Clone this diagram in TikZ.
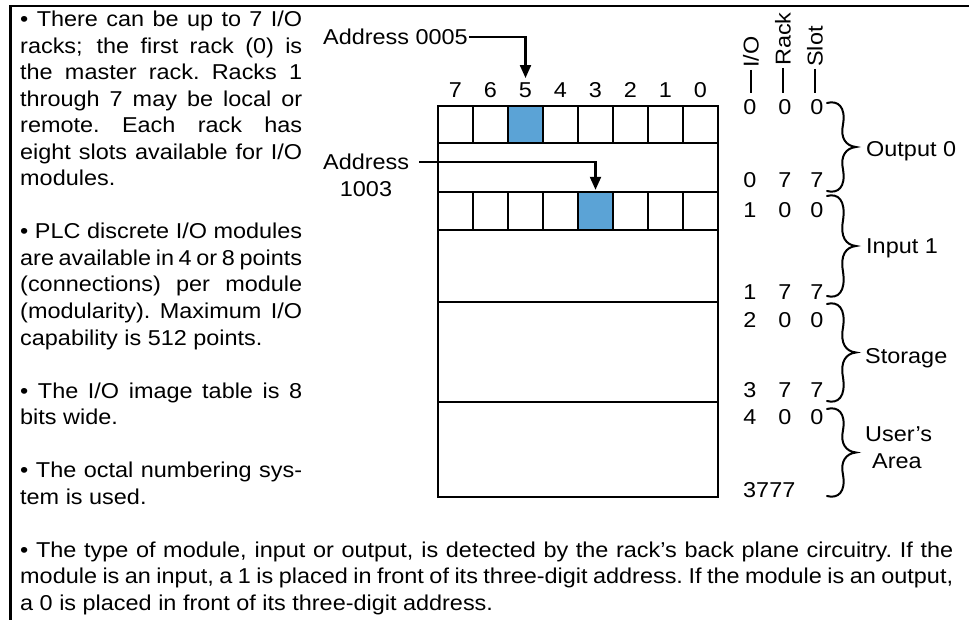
\documentclass[tikz,border=0pt]{standalone}
\usepackage{fontspec}
\setmainfont{Liberation Sans}[FakeStretch=1.09]
\usetikzlibrary{arrows.meta}
\definecolor{cellblue}{RGB}{91,163,214}
\newcommand\jl[2]{\hbox to #1{\spaceskip=0.278em plus 1fil minus 1fil\xspaceskip=\spaceskip #2}}
\newcommand\mybrace[2]{%
  \pgfmathsetmacro\byt{#1}\pgfmathsetmacro\byb{#2}%
  \pgfmathsetmacro\bym{(#1+#2)/2}%
  \pgfmathsetmacro\bq{(#2-#1)/4}%
  \draw[brc] (827,{\byt+1}) .. controls (838,{\byt-2}) and (846,{\byt+5}) .. (843,{\byt+\bq})
    .. controls (840,{\bym-9}) and (846,{\bym-1}) .. (856,\bym)
    .. controls (846,{\bym+1}) and (840,{\bym+9}) .. (843,{\bym+\bq})
    .. controls (846,{\byb-5}) and (838,{\byb+2}) .. (827,{\byb-1});}
\begin{document}
\begin{tikzpicture}[x=1pt,y=-1pt,
  txt/.style={inner sep=0pt, font=\fontsize{21.5}{26.5}\selectfont, anchor=base west},
  frame/.style={line width=2.8pt},
  tbl/.style={line width=2.2pt},
  arr/.style={line width=2.2pt, -{Triangle[length=13pt,width=11pt]}},
  brc/.style={line width=2pt, line cap=round},
  bluecell/.style={fill=cellblue, inner sep=0pt, minimum width=35pt}]
\useasboundingbox (0,0) rectangle (969,620);
\fill[white] (0,0) rectangle (969,620);
% frame
\draw[frame] (10.4,620) -- (10.4,6) -- (969,6);
% left column
\node[txt] (p1a) at (20,27) {\jl{282pt}{• There can be up to 7 I/O}};
\node[txt] (p1b) at (20,53.5) {\jl{282pt}{racks; the first rack (0) is}};
\node[txt] (p1c) at (20,80) {\jl{282pt}{the master rack. Racks 1}};
\node[txt] (p1d) at (20,106.5) {\jl{282pt}{through 7 may be local or}};
\node[txt] (p1e) at (20,133) {\jl{282pt}{remote. Each rack has}};
\node[txt] (p1f) at (20,159.5) {\jl{282pt}{eight slots available for I/O}};
\node[txt] (p1g) at (20,186) {modules.};
\node[txt] (p2a) at (20,239) {\jl{282pt}{• PLC discrete I/O modules}};
\node[txt] (p2b) at (20,265.5) {\jl{282pt}{are available in 4 or 8 points}};
\node[txt] (p2c) at (20,292) {\jl{282pt}{(connections) per module}};
\node[txt] (p2d) at (20,318.5) {\jl{282pt}{(modularity). Maximum I/O}};
\node[txt] (p2e) at (20,345) {capability is 512 points.};
\node[txt] (p3a) at (20,398) {\jl{282pt}{• The I/O image table is 8}};
\node[txt] (p3b) at (20,424.5) {bits wide.};
\node[txt] (p4a) at (20,477.5) {\jl{282pt}{• The octal numbering sys-}};
\node[txt] (p4b) at (20,504) {tem is used.};
% bottom paragraph
\node[txt] (p5a) at (20,557) {\jl{933pt}{• The type of module, input or output, is detected by the rack’s back plane circuitry. If the}};
\node[txt] (p5b) at (20,583.5) {\jl{933pt}{module is an input, a 1 is placed in front of its three-digit address. If the module is an output,}};
\node[txt] (p5c) at (20,610) {a 0 is placed in front of its three-digit address.};
% table
\node[bluecell, minimum height=37pt] (b5) at (525.5,124.5) {};
\node[bluecell, minimum height=38pt] (b3) at (595.5,211) {};
\draw[tbl] (438,106) rectangle (718,497);
\foreach \y in {143,192,230,302,402} \draw[tbl] (438,\y) -- (718,\y);
\foreach \i in {1,...,7} {
  \draw[tbl] ({438+35*\i},106) -- ({438+35*\i},143);
  \draw[tbl] ({438+35*\i},192) -- ({438+35*\i},230);
}
\foreach \d [count=\i from 0] in {7,6,5,4,3,2,1,0}
  \node[txt, anchor=base] (h\d) at ({455.5+35*\i},98) {\d};
% address arrows
\node[txt] (adr1) at (323,45) {Address 0005};
\draw[arr] ([xshift=1pt]adr1.east) -| ([yshift=5pt]h5.north);
\node[txt] (adr2) at (323,170) {Address};
\node[txt, anchor=base] (n1003) at (366,197) {1003};
\draw[arr] ([xshift=10pt]adr2.east) -| ([yshift=2pt]b3.north);
% column headings
\node[txt, rotate=90, anchor=west] (lio) at (751,68) {I/O};
\node[txt, rotate=90, anchor=west] (lrack) at (783,66) {Rack};
\node[txt, rotate=90, anchor=west] (lslot) at (815,67) {Slot};
\coordinate (tio) at (751,93);
\coordinate (track) at (783,93);
\coordinate (tslot) at (815,93);
\draw[tbl] ([yshift=-2pt]lio.west) -- (tio);
\draw[tbl] ([yshift=-2pt]lrack.west) -- (track);
\draw[tbl] ([yshift=-2pt]lslot.west) -- (tslot);
% address digits
\foreach \a/\b/\c/\yy in {0/0/0/115, 0/7/7/188, 1/0/0/218, 1/7/7/299, 2/0/0/327, 3/7/7/397, 4/0/0/424} {
  \node[txt, anchor=base] at (750,\yy) {\a};
  \node[txt, anchor=base] at (785,\yy) {\b};
  \node[txt, anchor=base] at (817,\yy) {\c};
}
\node[txt] (last) at (743,497) {3777};
% braces
\mybrace{102}{192}
\mybrace{195}{297}
\mybrace{303}{402}
\mybrace{408}{497}
\node[txt] (lout) at (866,157) {Output 0};
\node[txt] (lin) at (866,254) {Input 1};
\node[txt] (lsto) at (865,363) {Storage};
\node[txt] (lusr) at (865,441) {User’s};
\node[txt] (lare) at (872,468) {Area};
\end{tikzpicture}
\end{document}
